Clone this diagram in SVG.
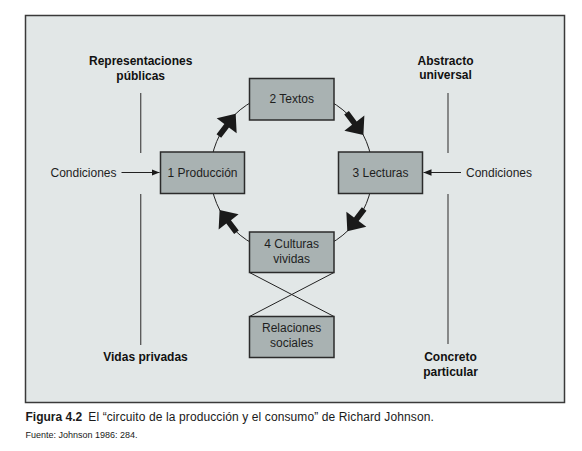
<svg xmlns="http://www.w3.org/2000/svg" width="582" height="451" viewBox="0 0 582 451">
<style>
  .frame { fill: #e2e7e7; stroke: #3a3a3a; stroke-width: 1.5; }
  .box { fill: #a9b2b2; stroke: #2b2b2b; stroke-width: 1.5; }
  .bt { font-family: "Liberation Sans", Arial, sans-serif; font-size: 12px; fill: #1e1e1e; text-anchor: middle; }
  .lab { font-family: "Liberation Sans", Arial, sans-serif; font-size: 12px; font-weight: bold; fill: #111; text-anchor: middle; }
  .cond { font-family: "Liberation Sans", Arial, sans-serif; font-size: 12px; fill: #1e1e1e; }
  .axis { stroke: #555; stroke-width: 1.3; fill: none; }
  .thin { stroke: #222; stroke-width: 1; fill: none; }
  .big { fill: #1a1a1a; }
</style>
<defs>
  <polygon id="bigarrow" points="0,0 -15,-12.5 -15,-2.9 -28,-2.9 -28,2.9 -15,2.9 -15,12.5"/>
  <marker id="head" viewBox="0 0 10 8" refX="10" refY="4" markerWidth="8" markerHeight="6.4" markerUnits="userSpaceOnUse" orient="auto">
    <path d="M0,0 L10,4 L0,8 Z" fill="#1a1a1a"/>
  </marker>
</defs>
<rect class="frame" x="25.5" y="15.5" width="539" height="387"/>

<g id="connectors">
  <circle class="thin" cx="291.5" cy="172.5" r="81"/>
  <line class="thin" x1="249.5" y1="272.5" x2="334" y2="316.5"/>
  <line class="thin" x1="334" y1="272.5" x2="249.5" y2="316.5"/>
  <line class="thin" x1="121.5" y1="172.5" x2="159.5" y2="172.5" marker-end="url(#head)"/>
  <line class="thin" x1="461" y1="172.5" x2="423.5" y2="172.5" marker-end="url(#head)"/>
  <line class="axis" x1="140.7" y1="93" x2="140.7" y2="153"/>
  <line class="axis" x1="140.7" y1="194" x2="140.7" y2="345"/>
  <line class="axis" x1="448" y1="93" x2="448" y2="153"/>
  <line class="axis" x1="448" y1="194" x2="448" y2="344"/>
  <use href="#bigarrow" class="big" transform="translate(235.7,113.7) rotate(307)"/>
  <use href="#bigarrow" class="big" transform="translate(363.4,135.1) rotate(53)"/>
  <use href="#bigarrow" class="big" transform="translate(347.3,231.3) rotate(127)"/>
  <use href="#bigarrow" class="big" transform="translate(219.6,209.9) rotate(233)"/>
</g>

<g id="n-textos">
  <rect class="box" x="249.5" y="78.5" width="84.5" height="41.5"/>
  <text class="bt" x="291.7" y="103">2 Textos</text>
</g>
<g id="n-produccion">
  <rect class="box" x="160.5" y="152" width="84" height="41.5"/>
  <text class="bt" x="202.5" y="176.5">1 Producción</text>
</g>
<g id="n-lecturas">
  <rect class="box" x="338.5" y="152" width="84" height="41.5"/>
  <text class="bt" x="380.5" y="176.5">3 Lecturas</text>
</g>
<g id="n-culturas">
  <rect class="box" x="249.5" y="232" width="84.5" height="40.5"/>
  <text class="bt" x="291.7" y="248">4 Culturas</text>
  <text class="bt" x="291.7" y="262.5">vividas</text>
</g>
<g id="n-relaciones">
  <rect class="box" x="249.5" y="316.5" width="84.5" height="41"/>
  <text class="bt" x="291.7" y="332">Relaciones</text>
  <text class="bt" x="291.7" y="347">sociales</text>
</g>

<g id="labels">
  <text class="lab" x="140.7" y="65">Representaciones</text>
  <text class="lab" x="140.7" y="79.5">públicas</text>
  <text class="lab" x="445.5" y="64.5">Abstracto</text>
  <text class="lab" x="445.5" y="79">universal</text>
  <text class="lab" x="145.5" y="361">Vidas privadas</text>
  <text class="lab" x="450.5" y="361">Concreto</text>
  <text class="lab" x="450.5" y="375.5">particular</text>
  <text class="cond" x="50.5" y="176.5">Condiciones</text>
  <text class="cond" x="466" y="176.5">Condiciones</text>
</g>

<g id="caption">
  <text x="25.5" y="421" font-family="'Liberation Sans', Arial, sans-serif" font-size="12" fill="#1a1a1a"><tspan font-weight="bold">Figura 4.2</tspan><tspan x="88.3" textLength="345.5" lengthAdjust="spacing">El “circuito de la producción y el consumo” de Richard Johnson.</tspan></text>
  <text x="25.5" y="438" font-family="'Liberation Sans', Arial, sans-serif" font-size="9" fill="#1a1a1a">Fuente: Johnson 1986: 284.</text>
</g>
</svg>
